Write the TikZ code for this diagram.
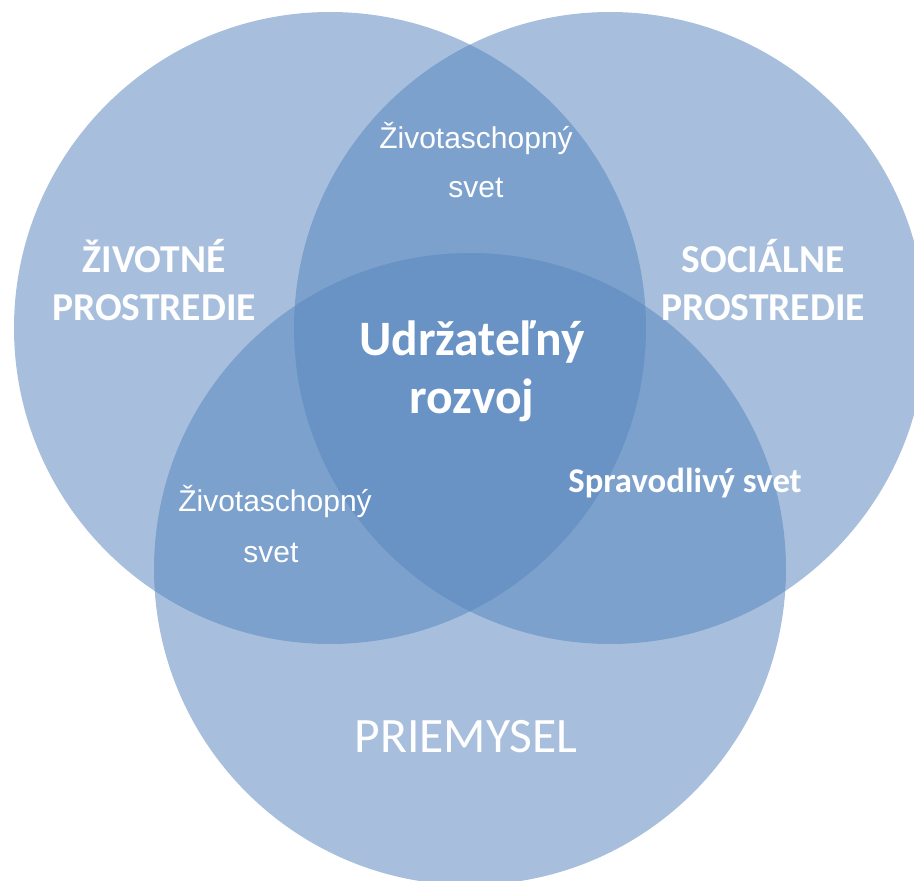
\documentclass[tikz,border=0pt]{standalone}
\usepackage{fontspec}
\newfontfamily\carlito{Carlito}
\newfontfamily\arialf{Liberation Sans}
\definecolor{vennblue}{RGB}{87,133,190}
\begin{document}
\begin{tikzpicture}[x=1pt,y=-1pt,
  venn/.style={fill=vennblue, fill opacity=0.52, draw=none},
  lblbig/.style={text=white, anchor=base, inner sep=0pt, font=\carlito\bfseries\fontsize{39.5}{47}\selectfont},
  lblcenter/.style={text=white, anchor=base, inner sep=0pt, font=\carlito\bfseries\fontsize{49.5}{58}\selectfont},
  lblmid/.style={text=white, anchor=base, inner sep=0pt, font=\carlito\bfseries\fontsize{34.7}{42}\selectfont},
  lblsmall/.style={text=white, anchor=base, inner sep=0pt, font=\arialf\fontsize{30}{36}\selectfont},
  lblind/.style={text=white, anchor=base, inner sep=0pt, font=\carlito\fontsize{49.5}{58}\selectfont}]
\useasboundingbox (0,0) rectangle (914,881);
\begin{scope}
\clip (0,0) rectangle (914,881);
\fill[venn] (330,328) circle[radius=316pt];
\fill[venn] (610,328) circle[radius=316pt];
\fill[venn] (470,569) circle[radius=316pt];
\end{scope}
% labels
\node[lblbig] (env1) at (154,272) {ŽIVOTNÉ};
\node[lblbig] (env2) at (154,320) {PROSTREDIE};
\node[lblbig] (soc1) at (763,272) {SOCIÁLNE};
\node[lblbig] (soc2) at (763,320) {PROSTREDIE};
\node[lblcenter] (ur1) at (472,355) {Udržateľný};
\node[lblcenter] (ur2) at (472,413) {rozvoj};
\node[lblsmall] (zt1) at (476,148) {Životaschopný};
\node[lblsmall] (zt2) at (476,197) {svet};
\node[lblsmall] (zl1) at (275,511) {Životaschopný};
\node[lblsmall] (zl2) at (271,562) {svet};
\node[lblmid] (spr) at (685,492) {Spravodlivý svet};
\node[lblind] (ind) at (466,752) {PRIEMYSEL};
\end{tikzpicture}
\end{document}
